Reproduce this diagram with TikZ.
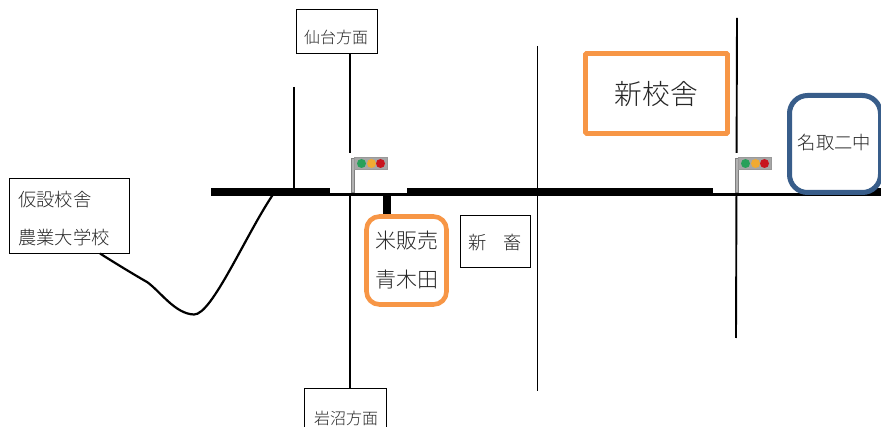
\documentclass[tikz,border=0pt]{standalone}
\usepackage{fontspec}
\setmainfont{Liberation Serif}
\newfontfamily\jp{Noto Sans CJK JP Light}[Scale=1]
\usetikzlibrary{calc}
\definecolor{orangeb}{RGB}{247,150,70}
\definecolor{blueb}{RGB}{56,93,138}
\definecolor{lampg}{RGB}{40,160,90}
\definecolor{lampa}{RGB}{240,170,50}
\definecolor{lampr}{RGB}{200,20,30}
\tikzset{
  x=1pt,y=-1pt,
  lbl/.style={font=\jp\fontsize{#1}{#1}\selectfont,text=black!85,inner sep=0pt},
  wide/.style={line width=8pt,draw=black},
  narrowroad/.style={line width=3pt,draw=black},
  vroad/.style={line width=1.9pt,draw=black},
  thinbox/.style={draw=black,line width=1pt,fill=white},
  curve/.style={line width=2.2pt,draw=black},
  orangebox/.style={draw=orangeb,line width=4.6pt,fill=white},
  pole/.style={draw=black!50,fill=black!30,line width=0.6pt},
  head/.style={draw=black!40,fill=black!35,line width=0.5pt},
  lamp/.style={circle,draw=none,inner sep=0pt,minimum size=9pt},
  signal/.pic={
    \fill[white] (-21,-10) rectangle (56,31);
    \path[pole] (0,-5.5) rectangle (3.5,29);
    \path[head] (3.5,-6.5) rectangle (36,5.5);
    \node[lamp,fill=lampg] at (10.5,0) {};
    \node[lamp,fill=lampa] at (20.5,0) {};
    \node[lamp,fill=lampr] at (29.5,0) {};
  }
}
\begin{document}
\begin{tikzpicture}
\useasboundingbox (0,0) rectangle (881,427);
\fill[white] (0,0) rectangle (881,427);

% vertical roads
\coordinate (a1) at (294,87); \coordinate (a2) at (294,191);
\draw[vroad,line width=1.6pt] (a1) -- (a2);
\coordinate (c1) at (537.5,46); \coordinate (c2) at (537.5,391);
\draw[vroad] (c1) -- (c2);
\coordinate (d1) at (737,18); \coordinate (d2) at (736,338);
\draw[vroad] (d1) -- (d2);
\coordinate (s1) at (350,40); \coordinate (s2) at (350,395);
\draw[vroad,line width=1.5pt] (s1) -- (s2);

% horizontal road
\coordinate (r1a) at (211,192); \coordinate (r1b) at (330,192);
\coordinate (r2a) at (407,192); \coordinate (r2b) at (713,192);
\coordinate (r3a) at (805,192); \coordinate (r3b) at (881,192);
\draw[wide] (r1a) -- (r1b);
\draw[wide] (r2a) -- (r2b);
\draw[wide] (r3a) -- (r3b);

% signals with their white masks
\pic at (351,163.5) {signal};
\pic at (735,163.5) {signal};
\coordinate (t1) at (330,194.5); \coordinate (t2) at (407,194.5);
\coordinate (t3) at (713,194.5); \coordinate (t4) at (881,194.5);
\draw[narrowroad] (t1) -- (t2);
\draw[narrowroad] (t3) -- (t4);

% boxes
\node[thinbox,minimum width=81pt,minimum height=44pt,inner sep=0pt] (sendai) at (336.5,31.5) {};
\node[lbl=16] at (336,37.5) {仙台方面};
\node[thinbox,minimum width=82pt,minimum height=50pt,inner sep=0pt] (iwanuma) at (345.5,414) {};
\node[lbl=16] at (346,418) {岩沼方面};

\node[thinbox,minimum width=120pt,minimum height=75pt,inner sep=0pt] (kasetsu) at (69,216) {};
\node[lbl=18.3,anchor=west] at (18,199.5) {仮設校舎};
\node[lbl=18.3,anchor=west] at (18,237.5) {農業大学校};
\coordinate (j) at (274,193);
\coordinate (k) at (100,253.5);
\draw[curve] (k) .. controls (115,263) and (133,274) .. (147,282)
  .. controls (160,291) and (175,314) .. (194,314.5)
  .. controls (212,315) and (246,234) .. (j);

\coordinate (stub) at (387,195);
\node[orangebox,rounded corners=13pt,minimum width=80pt,minimum height=88pt,inner sep=0pt] (kome) at (406.5,260.5) {};
\draw[line width=8pt] (stub) -- (kome.north -| stub);
\node[lbl=21] at (406.5,241) {米販売};
\node[lbl=21] at (406.5,280) {青木田};

\node[thinbox,minimum width=70pt,minimum height=52pt,inner sep=0pt] (shinchiku) at (495,241.5) {};
\node[lbl=18.3] at (495.5,243) {新\hspace{17pt}畜};

\node[orangebox,rounded corners=1pt,minimum width=142pt,minimum height=80pt,inner sep=0pt] (shin) at (656.5,93.5) {};
\node[lbl=27.7] at (656.5,94) {新校舎};

\node[draw=blueb,line width=5pt,fill=white,rounded corners=18pt,minimum width=91pt,minimum height=97pt,inner sep=0pt] (natori) at (835,144) {};
\node[lbl=18.3] at (834.5,143) {名取二中};
\end{tikzpicture}
\end{document}
